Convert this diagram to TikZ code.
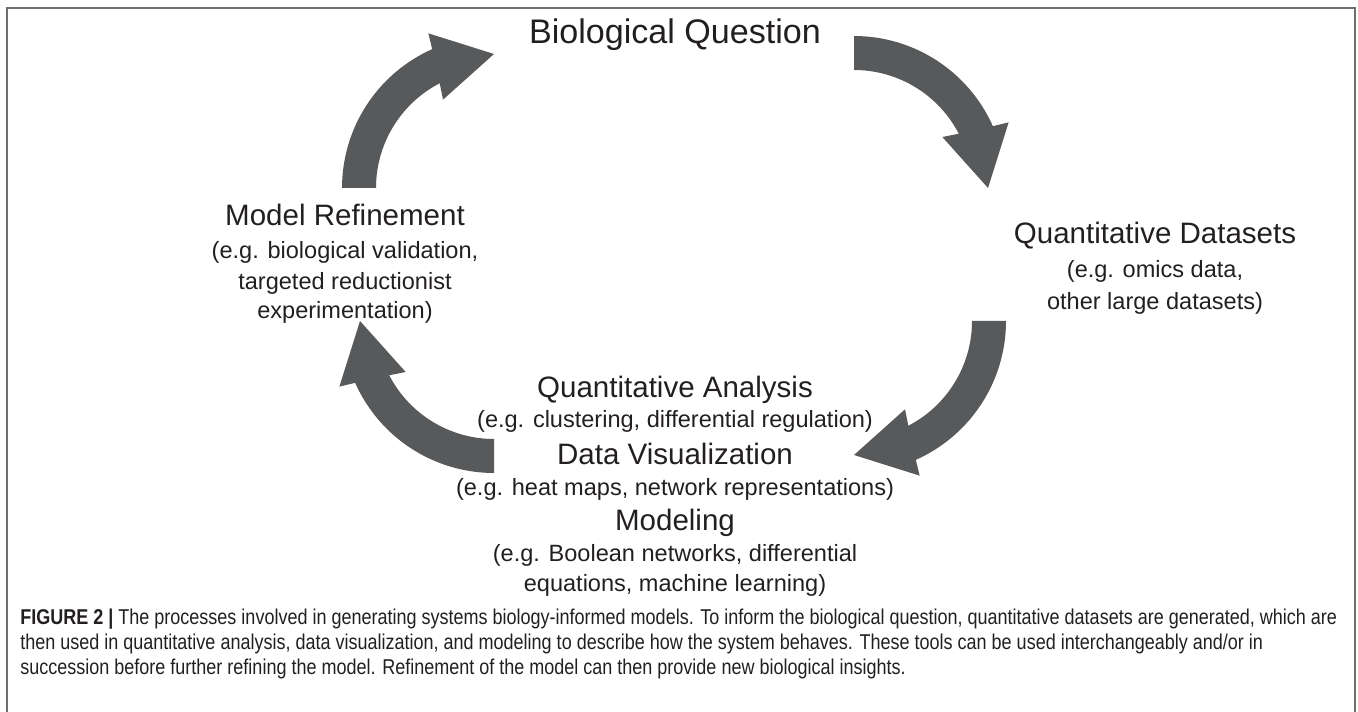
\documentclass[tikz,border=0pt]{standalone}
\usepackage{fontspec}
\setmainfont{Liberation Sans}
\newfontfamily\capfont[FakeStretch=0.84]{Liberation Sans}
\usetikzlibrary{calc}
\definecolor{arrowgray}{RGB}{88,89,91}
\definecolor{ink}{RGB}{35,31,32}
\definecolor{framegray}{RGB}{110,110,110}

% thick curved cycle arrow: #1 = centre of its arc, #2 = rotation (degrees)
\newcommand{\loopArrow}[2]{%
  \fill[arrowgray] ($(#1)+(180+#2:152)$)
    arc[start angle=180+#2, end angle=246+#2, radius=152]
    -- ($(#1)+(247+#2:168)$) -- ($(#1)+(270+#2:134)$) -- ($(#1)+(240+#2:102)$)
    -- ($(#1)+(242.6+#2:118)$)
    arc[start angle=242.6+#2, end angle=180+#2, radius=118] -- cycle;}

\begin{document}
\begin{tikzpicture}[x=0.02cm, y=-0.02cm,
  every node/.style={inner sep=0pt, text=ink},
  title/.style={anchor=base, font=\fontsize{19.4}{23}\selectfont},
  head/.style={anchor=base, font=\fontsize{16.8}{20}\selectfont},
  sub/.style={anchor=base, font=\fontsize{13.4}{16}\selectfont},
  captionline/.style={anchor=base west, font=\capfont\fontsize{12.2}{15}\selectfont}]
\useasboundingbox (0,0) rectangle (1358,712);

% frame
\draw[framegray, line width=0.04cm] (7,730) -- (7,8) -- (1355,8) -- (1355,730);

% arc centres of the four arrows
\coordinate (cq) at (494,188);
\coordinate (cd) at (854,188);
\coordinate (ca) at (854,321);
\coordinate (cm) at (494,321);

\loopArrow{cq}{0}
\loopArrow{cd}{90}
\loopArrow{ca}{180}
\loopArrow{cm}{270}

% stages of the cycle
\node[title] (question) at (675,44) {Biological Question};

\node[head] (datasets) at (1155,244) {Quantitative Datasets};
\node[sub] (datasets1) at (1155,278) {(e.g. omics data,};
\node[sub] (datasets2) at (1155,310) {other large datasets)};

\node[head] (refine) at (345,226) {Model Refinement};
\node[sub] (refine1) at (345,259) {(e.g. biological validation,};
\node[sub] (refine2) at (345,290) {targeted reductionist};
\node[sub] (refine3) at (345,319) {experimentation)};

\node[head] (analysis) at (675,398) {Quantitative Analysis};
\node[sub] (analysis1) at (675,428) {(e.g. clustering, differential regulation)};
\node[head] (visual) at (675,464) {Data Visualization};
\node[sub] (visual1) at (675,495) {(e.g. heat maps, network representations)};
\node[head] (modeling) at (675,530) {Modeling};
\node[sub] (modeling1) at (675,561) {(e.g. Boolean networks, differential};
\node[sub] (modeling2) at (675,591) {equations, machine learning)};

% caption
\node[captionline] (cap1) at (20,624) {\textbf{FIGURE 2 |} The processes involved in generating systems biology-informed models. To inform the biological question, quantitative datasets are generated, which are};
\node[captionline] (cap2) at (20,649) {then used in quantitative analysis, data visualization, and modeling to describe how the system behaves. These tools can be used interchangeably and/or in};
\node[captionline] (cap3) at (20,674) {succession before further refining the model. Refinement of the model can then provide new biological insights.};
\end{tikzpicture}
\end{document}
